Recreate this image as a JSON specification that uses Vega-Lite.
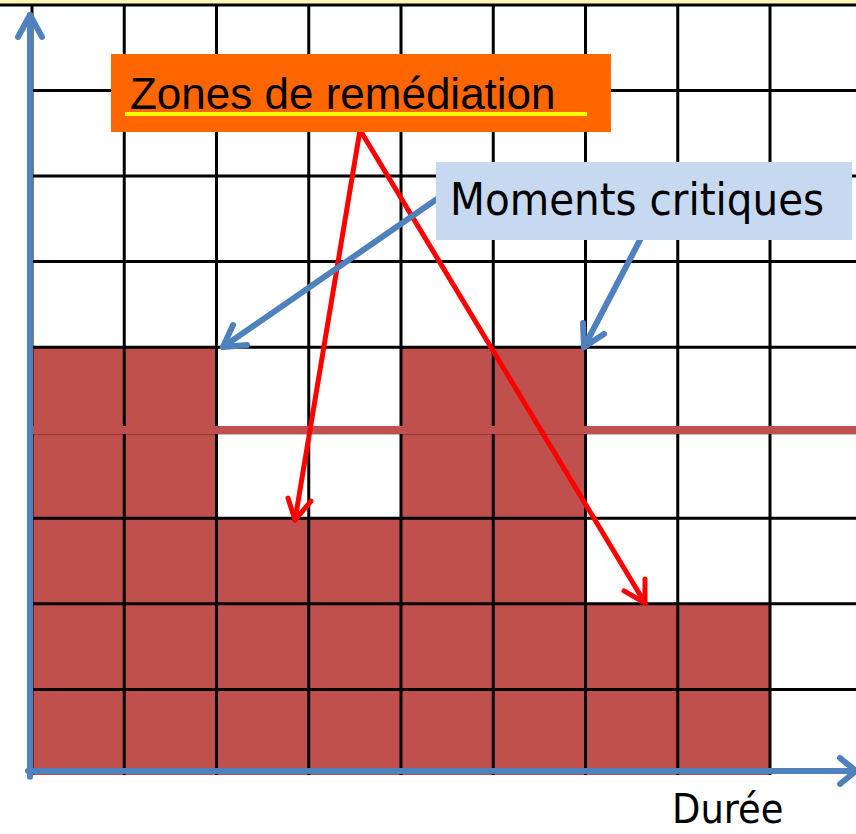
{
  "$schema": "https://vega.github.io/schema/vega-lite/v6.json",
  "width": 856,
  "height": 834,
  "autosize": "none",
  "padding": 0,
  "background": "white",
  "config": {"view": {"stroke": null}},
  "datasets": {
    "bars": [
      {"x": 0, "x2": 1, "y": 0, "y2": 5},
      {"x": 1, "x2": 2, "y": 0, "y2": 5},
      {"x": 2, "x2": 3, "y": 0, "y2": 3},
      {"x": 3, "x2": 4, "y": 0, "y2": 3},
      {"x": 4, "x2": 5, "y": 0, "y2": 5},
      {"x": 5, "x2": 6, "y": 0, "y2": 5},
      {"x": 6, "x2": 7, "y": 0, "y2": 2},
      {"x": 7, "x2": 8, "y": 0, "y2": 2}
    ],
    "vgrid": [
      {"x": 0, "y": 0, "y2": 9}, {"x": 1, "y": 0, "y2": 9}, {"x": 2, "y": 0, "y2": 9},
      {"x": 3, "y": 0, "y2": 9}, {"x": 4, "y": 0, "y2": 9}, {"x": 5, "y": 0, "y2": 9},
      {"x": 6, "y": 0, "y2": 9}, {"x": 7, "y": 0, "y2": 9}, {"x": 8, "y": 0, "y2": 9}
    ],
    "hgrid": [
      {"x": 0, "x2": 8.94, "y": 1}, {"x": 0, "x2": 8.94, "y": 2}, {"x": 0, "x2": 8.94, "y": 3},
      {"x": 0, "x2": 8.94, "y": 4}, {"x": 0, "x2": 8.94, "y": 5}, {"x": 0, "x2": 8.94, "y": 6},
      {"x": 0, "x2": 8.94, "y": 7}, {"x": 0, "x2": 8.94, "y": 8}, {"x": -0.35, "x2": 8.94, "y": 9}
    ],
    "band": [{"x": -0.35, "x2": 8.94, "y": 9, "y2": 9.06}],
    "level": [{"x": -0.02, "x2": 8.94, "y": 4.032}],
    "blue": [
      {"x": -0.0217, "y": -0.02, "x2": -0.0217, "y2": 8.87},
      {"x": -0.152, "y": 8.626, "x2": -0.0217, "y2": 8.883},
      {"x": 0.108, "y": 8.626, "x2": -0.0217, "y2": 8.883},
      {"x": -0.0434, "y": 0.0468, "x2": 8.92, "y2": 0.0468},
      {"x": 8.759, "y": 0.199, "x2": 8.932, "y2": 0.0468},
      {"x": 8.759, "y": -0.105, "x2": 8.932, "y2": 0.0468},
      {"x": 4.39, "y": 6.732, "x2": 2.07, "y2": 5.002},
      {"x": 2.331, "y": 5.026, "x2": 2.07, "y2": 5.002},
      {"x": 2.179, "y": 5.259, "x2": 2.07, "y2": 5.002},
      {"x": 6.591, "y": 6.253, "x2": 5.984, "y2": 5.002},
      {"x": 6.201, "y": 5.154, "x2": 5.984, "y2": 5.002},
      {"x": 5.973, "y": 5.283, "x2": 5.984, "y2": 5.002}
    ],
    "red": [
      {"x": 3.556, "y": 7.539, "x2": 2.851, "y2": 2.98},
      {"x": 2.775, "y": 3.237, "x2": 2.851, "y2": 2.98},
      {"x": 3.024, "y": 3.202, "x2": 2.851, "y2": 2.98},
      {"x": 3.556, "y": 7.539, "x2": 6.645, "y2": 2.01},
      {"x": 6.417, "y": 2.151, "x2": 6.645, "y2": 2.01},
      {"x": 6.645, "y": 2.291, "x2": 6.645, "y2": 2.01}
    ],
    "orangebox": [{"x": 0.856, "x2": 6.276, "y": 7.515, "y2": 8.427}],
    "bluebox": [{"x": 4.379, "x2": 8.889, "y": 6.253, "y2": 7.165}],
    "underline": [{"x": 1.008, "x2": 6.016, "y": 7.726}],
    "zones": [{"x": 1.062, "y": 7.784, "label": "Zones de remédiation"}],
    "moments": [{"x": 4.531, "y": 6.545, "label": "Moments critiques"}],
    "duree": [{"x": 6.938, "y": -0.56, "label": "Durée"}]
  },
  "encoding": {
    "x": {"field": "x", "type": "quantitative", "axis": null, "scale": {"domain": [-0.3469, 8.9322], "nice": false, "zero": false}},
    "y": {"field": "y", "type": "quantitative", "axis": null, "scale": {"domain": [-0.6896, 9.0577], "nice": false, "zero": false}}
  },
  "layer": [
    {"data": {"name": "bars"}, "mark": {"type": "rect", "color": "#C0504D"},
     "encoding": {"x2": {"field": "x2"}, "y2": {"field": "y2"}}},
    {"data": {"name": "band"}, "mark": {"type": "rect", "color": "#FFF6B4"},
     "encoding": {"x2": {"field": "x2"}, "y2": {"field": "y2"}}},
    {"data": {"name": "vgrid"}, "mark": {"type": "rule", "color": "black", "strokeWidth": 3},
     "encoding": {"y2": {"field": "y2"}}},
    {"data": {"name": "hgrid"}, "mark": {"type": "rule", "color": "black", "strokeWidth": 3},
     "encoding": {"x2": {"field": "x2"}}},
    {"data": {"name": "level"}, "mark": {"type": "rule", "color": "#C0504D", "strokeWidth": 8},
     "encoding": {"x2": {"field": "x2"}}},
    {"data": {"name": "red"}, "mark": {"type": "rule", "color": "#FF0000", "strokeWidth": 5, "strokeCap": "round"},
     "encoding": {"x2": {"field": "x2"}, "y2": {"field": "y2"}}},
    {"data": {"name": "blue"}, "mark": {"type": "rule", "color": "#4F81BD", "strokeWidth": 6, "strokeCap": "round"},
     "encoding": {"x2": {"field": "x2"}, "y2": {"field": "y2"}}},
    {"data": {"name": "orangebox"}, "mark": {"type": "rect", "color": "#FF6600"},
     "encoding": {"x2": {"field": "x2"}, "y2": {"field": "y2"}}},
    {"data": {"name": "bluebox"}, "mark": {"type": "rect", "color": "#C6D9F1"},
     "encoding": {"x2": {"field": "x2"}, "y2": {"field": "y2"}}},
    {"data": {"name": "underline"}, "mark": {"type": "rule", "color": "#FFFF00", "strokeWidth": 4},
     "encoding": {"x2": {"field": "x2"}}},
    {"data": {"name": "zones"}, "mark": {"type": "text", "align": "left", "baseline": "alphabetic", "font": "Liberation Sans", "fontSize": 44, "color": "black"},
     "encoding": {"text": {"field": "label"}}},
    {"data": {"name": "moments"}, "mark": {"type": "text", "align": "left", "baseline": "alphabetic", "font": "DejaVu Sans Condensed, DejaVu Sans", "fontSize": 45, "color": "black"},
     "encoding": {"text": {"field": "label"}}},
    {"data": {"name": "duree"}, "mark": {"type": "text", "align": "left", "baseline": "alphabetic", "font": "DejaVu Sans Condensed, DejaVu Sans", "fontSize": 41, "color": "black"},
     "encoding": {"text": {"field": "label"}}}
  ]
}
